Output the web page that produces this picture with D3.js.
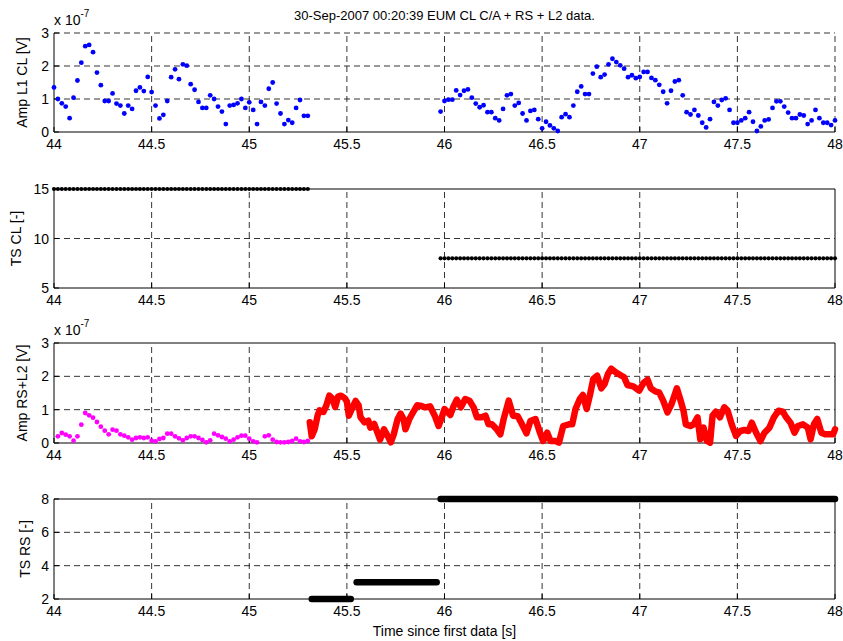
<!DOCTYPE html>
<html>
<head>
<meta charset="utf-8">
<script src="https://cdn.jsdelivr.net/npm/d3@7"></script>
<style>
  body { margin: 0; background: #fff; }
  svg { display: block; font-family: "Liberation Sans", Arial, Helvetica, sans-serif; }
</style>
</head>
<body>
<svg id="chart" width="843" height="641"></svg>
<script>
// time axis shared by all four panels [s]
const xTicks = [44, 44.5, 45, 45.5, 46, 46.5, 47, 47.5, 48]

// CL C/A amplitude on L1, [time s, amplitude x 1e-7 V]
const ampL1Cl = [
  [44.00, 1.35], [44.02, 1.00], [44.04, 0.87], [44.06, 0.77], [44.08, 0.42], [44.10, 1.04],
  [44.12, 1.56], [44.14, 2.10], [44.16, 2.60], [44.18, 2.64], [44.20, 2.42], [44.22, 1.80],
  [44.24, 1.42], [44.26, 0.94], [44.28, 0.94], [44.30, 1.17], [44.32, 0.86], [44.34, 0.80],
  [44.36, 0.56], [44.38, 0.80], [44.40, 0.70], [44.42, 1.25], [44.44, 1.35], [44.46, 1.24],
  [44.48, 1.67], [44.50, 1.21], [44.52, 0.80], [44.54, 0.41], [44.56, 0.52], [44.58, 0.94],
  [44.60, 1.66], [44.62, 1.90], [44.64, 1.60], [44.66, 2.05], [44.68, 2.01], [44.70, 1.45],
  [44.72, 1.28], [44.74, 0.91], [44.76, 0.73], [44.78, 0.73], [44.80, 1.11], [44.82, 1.00],
  [44.84, 0.77], [44.86, 0.62], [44.88, 0.24], [44.90, 0.80], [44.92, 0.82], [44.94, 0.87],
  [44.96, 1.00], [44.98, 0.73], [45.00, 0.90], [45.02, 0.67], [45.04, 0.24], [45.06, 0.91],
  [45.08, 0.80], [45.10, 1.31], [45.12, 1.50], [45.14, 0.86], [45.16, 0.56], [45.18, 0.24],
  [45.20, 0.36], [45.22, 0.28], [45.24, 0.73], [45.26, 0.97], [45.28, 0.49], [45.30, 0.49],
  [45.98, 0.62], [46.00, 0.94], [46.02, 0.98], [46.04, 0.98], [46.06, 1.26], [46.08, 1.12],
  [46.10, 1.25], [46.12, 1.29], [46.14, 1.04], [46.16, 0.86], [46.18, 0.75], [46.20, 0.81],
  [46.22, 0.60], [46.24, 0.60], [46.26, 0.42], [46.28, 0.35], [46.30, 0.70], [46.32, 1.11],
  [46.34, 1.15], [46.36, 0.80], [46.38, 0.88], [46.40, 0.56], [46.42, 0.35], [46.44, 0.64],
  [46.46, 0.67], [46.48, 0.39], [46.50, 0.11], [46.52, 0.31], [46.54, 0.20], [46.56, 0.11],
  [46.58, 0.03], [46.60, 0.45], [46.62, 0.54], [46.64, 0.45], [46.66, 0.80], [46.68, 1.22],
  [46.70, 1.38], [46.72, 1.15], [46.74, 1.15], [46.76, 1.77], [46.78, 1.98], [46.80, 1.66],
  [46.82, 1.74], [46.84, 2.05], [46.86, 2.22], [46.88, 2.12], [46.90, 2.02], [46.92, 1.92],
  [46.94, 1.66], [46.96, 1.72], [46.98, 1.63], [47.00, 1.67], [47.02, 1.82], [47.04, 1.82],
  [47.06, 1.64], [47.08, 1.57], [47.10, 1.43], [47.12, 1.22], [47.14, 0.87], [47.16, 1.25],
  [47.18, 1.53], [47.20, 1.57], [47.22, 1.11], [47.24, 0.60], [47.26, 0.53], [47.28, 0.67],
  [47.30, 0.50], [47.32, 0.28], [47.34, 0.14], [47.36, 0.39], [47.38, 0.91], [47.40, 0.80],
  [47.42, 0.97], [47.44, 1.02], [47.46, 0.67], [47.48, 0.28], [47.50, 0.28], [47.52, 0.35],
  [47.54, 0.42], [47.56, 0.60], [47.58, 0.31], [47.60, 0.03], [47.62, 0.17], [47.64, 0.35],
  [47.66, 0.38], [47.68, 0.73], [47.70, 0.93], [47.72, 0.93], [47.74, 0.77], [47.76, 0.59],
  [47.78, 0.42], [47.80, 0.42], [47.82, 0.53], [47.84, 0.50], [47.86, 0.24], [47.88, 0.35],
  [47.90, 0.67], [47.92, 0.42], [47.94, 0.28], [47.96, 0.28], [47.98, 0.21], [48.00, 0.35]
]

// CL tracking state, constant over each block of CL samples
const tsClBlocks = [
  { from: 44.00, to: 45.30, ts: 15 },
  { from: 45.98, to: 48.00, ts: 8 }
]

// L2 amplitude (magenta), [time s, amplitude x 1e-7 V]
const ampL2 = [
  [44.02, 0.20], [44.04, 0.30], [44.06, 0.25], [44.08, 0.20], [44.10, 0.07], [44.12, 0.20],
  [44.14, 0.55], [44.16, 0.90], [44.18, 0.83], [44.20, 0.76], [44.22, 0.63], [44.24, 0.49],
  [44.26, 0.37], [44.28, 0.26], [44.30, 0.40], [44.32, 0.37], [44.34, 0.26], [44.36, 0.22],
  [44.38, 0.17], [44.40, 0.10], [44.42, 0.15], [44.44, 0.17], [44.46, 0.15], [44.48, 0.17],
  [44.50, 0.07], [44.52, 0.05], [44.54, 0.12], [44.56, 0.15], [44.58, 0.28], [44.60, 0.28],
  [44.62, 0.20], [44.64, 0.14], [44.66, 0.08], [44.68, 0.15], [44.70, 0.20], [44.72, 0.20],
  [44.74, 0.15], [44.76, 0.09], [44.78, 0.02], [44.80, 0.08], [44.82, 0.28], [44.84, 0.23],
  [44.86, 0.18], [44.88, 0.13], [44.90, 0.05], [44.92, 0.10], [44.94, 0.17], [44.96, 0.22],
  [44.98, 0.22], [45.00, 0.13], [45.02, 0.05], [45.04, 0.02], [45.08, 0.20], [45.10, 0.23],
  [45.12, 0.10], [45.14, 0.03], [45.16, 0.02], [45.18, 0.02], [45.20, 0.03], [45.22, 0.06],
  [45.24, 0.13], [45.26, 0.05], [45.28, 0.03], [45.30, 0.06]
]

// RS amplitude (red), [time s, amplitude x 1e-7 V]
const ampRs = [
  [45.31, 0.62], [45.32, 0.20], [45.335, 0.41], [45.35, 0.82], [45.36, 0.98], [45.38, 0.93],
  [45.395, 1.13], [45.41, 1.42], [45.425, 1.34], [45.44, 1.08], [45.455, 1.39], [45.47, 1.42],
  [45.49, 1.34], [45.50, 1.24], [45.51, 0.82], [45.53, 1.08], [45.545, 1.26], [45.56, 1.13],
  [45.57, 0.77], [45.59, 0.62], [45.61, 0.67], [45.62, 0.46], [45.64, 0.57], [45.66, 0.26],
  [45.67, 0.10], [45.69, 0.41], [45.71, 0.20], [45.725, 0.02], [45.74, 0.26], [45.76, 0.72],
  [45.775, 0.88], [45.79, 0.72], [45.80, 0.41], [45.82, 0.72], [45.84, 0.93], [45.86, 1.13],
  [45.875, 1.12], [45.90, 1.07], [45.926, 1.10], [45.95, 0.82], [45.97, 0.51], [45.986, 0.77],
  [46.00, 1.02], [46.03, 0.84], [46.046, 1.10], [46.063, 1.30], [46.084, 1.07], [46.106, 1.32],
  [46.128, 1.27], [46.149, 1.07], [46.166, 0.77], [46.19, 0.77], [46.21, 0.82], [46.226, 0.56],
  [46.243, 0.56], [46.265, 0.43], [46.286, 0.26], [46.303, 0.72], [46.329, 1.27], [46.351, 0.82],
  [46.375, 0.80], [46.397, 0.56], [46.42, 0.29], [46.44, 0.66], [46.466, 0.72], [46.486, 0.36],
  [46.505, 0.06], [46.526, 0.31], [46.543, 0.06], [46.568, 0.06], [46.586, 0.01], [46.608, 0.51],
  [46.637, 0.56], [46.654, 0.56], [46.671, 1.02], [46.693, 1.32], [46.709, 1.44], [46.728, 1.02],
  [46.745, 1.44], [46.762, 1.92], [46.782, 2.02], [46.803, 1.64], [46.82, 1.77], [46.837, 2.07],
  [46.854, 2.23], [46.877, 2.12], [46.90, 2.04], [46.92, 1.97], [46.937, 1.74], [46.967, 1.70],
  [46.997, 1.57], [47.019, 1.80], [47.04, 1.90], [47.057, 1.64], [47.082, 1.54], [47.099, 1.52],
  [47.12, 1.27], [47.142, 0.92], [47.163, 1.17], [47.19, 1.64], [47.207, 1.32], [47.224, 0.97],
  [47.236, 0.56], [47.259, 0.51], [47.276, 0.56], [47.296, 0.77], [47.31, 0.11], [47.327, 0.46],
  [47.344, 0.06], [47.36, 0.01], [47.373, 0.82], [47.39, 0.94], [47.411, 0.77], [47.433, 1.07],
  [47.45, 0.97], [47.471, 0.56], [47.493, 0.21], [47.515, 0.36], [47.536, 0.39], [47.557, 0.36],
  [47.574, 0.61], [47.596, 0.31], [47.618, 0.06], [47.639, 0.31], [47.664, 0.46], [47.687, 0.77],
  [47.711, 0.97], [47.733, 0.94], [47.75, 0.77], [47.772, 0.61], [47.793, 0.31], [47.81, 0.51],
  [47.836, 0.56], [47.861, 0.46], [47.875, 0.11], [47.892, 0.56], [47.909, 0.72], [47.93, 0.31],
  [47.95, 0.26], [47.973, 0.26], [47.99, 0.26], [48.00, 0.41]
]

// RS tracking state blocks
const tsRsBlocks = [
  { from: 45.32, to: 45.52, ts: 2 },
  { from: 45.55, to: 45.96, ts: 3 },
  { from: 45.98, to: 48.00, ts: 8 }
]

const title = '30-Sep-2007 00:20:39 EUM CL C/A + RS + L2 data.'
const xLabel = 'Time since first data [s]'

const plotLeft = 54
const plotRight = 835
const fontSize = 14

const panels = [
  { top: 33, bottom: 132, yDomain: [0, 3], yTicks: [0, 1, 2, 3], yLabel: 'Amp L1 CL [V]', labelX: 27, exponent: true, closed: false },
  { top: 189, bottom: 288, yDomain: [5, 15], yTicks: [5, 10, 15], yLabel: 'TS CL [-]', labelX: 21, exponent: false, closed: true },
  { top: 343, bottom: 443, yDomain: [0, 3], yTicks: [0, 1, 2, 3], yLabel: 'Amp RS+L2 [V]', labelX: 27, exponent: true, closed: true },
  { top: 499, bottom: 599, yDomain: [2, 8], yTicks: [2, 4, 6, 8], yLabel: 'TS RS [-]', labelX: 30, exponent: false, closed: true }
]

const svg = d3.select('#chart')
const x = d3.scaleLinear().domain([44, 48]).range([plotLeft, plotRight])

const drawPanel = (p) => {
  const y = d3.scaleLinear().domain(p.yDomain).range([p.bottom, p.top])
  const g = svg.append('g')

  // dashed grid
  const grid = g.append('g')
    .attr('stroke', '#000')
    .attr('stroke-width', 0.8)
    .attr('stroke-dasharray', '6,4')
  grid.selectAll('line.v')
    .data(xTicks.slice(1, p.closed ? -1 : undefined))
    .join('line')
    .attr('class', 'v')
    .attr('x1', (d) => x(d)).attr('x2', (d) => x(d))
    .attr('y1', p.bottom).attr('y2', p.top)
  grid.selectAll('line.h')
    .data(p.yTicks.slice(1, p.closed ? -1 : undefined))
    .join('line')
    .attr('class', 'h')
    .attr('x1', plotLeft).attr('x2', plotRight)
    .attr('y1', (d) => y(d)).attr('y2', (d) => y(d))

  // box
  const box = g.append('g').attr('stroke', '#000').attr('stroke-width', 1).attr('fill', 'none')
  box.append('line').attr('x1', plotLeft).attr('x2', plotRight).attr('y1', p.bottom).attr('y2', p.bottom)
  box.append('line').attr('x1', plotLeft).attr('x2', plotLeft).attr('y1', p.top).attr('y2', p.bottom)
  if (p.closed) {
    box.append('line').attr('x1', plotLeft).attr('x2', plotRight).attr('y1', p.top).attr('y2', p.top)
    box.append('line').attr('x1', plotRight).attr('x2', plotRight).attr('y1', p.top).attr('y2', p.bottom)
  }
  // inward ticks
  box.selectAll('line.tx')
    .data(xTicks)
    .join('line')
    .attr('x1', (d) => x(d)).attr('x2', (d) => x(d))
    .attr('y1', p.bottom).attr('y2', p.bottom - 5)
  box.selectAll('line.ty')
    .data(p.yTicks)
    .join('line')
    .attr('x1', plotLeft).attr('x2', plotLeft + 5)
    .attr('y1', (d) => y(d)).attr('y2', (d) => y(d))

  // tick labels
  g.append('g')
    .attr('font-size', fontSize)
    .attr('text-anchor', 'middle')
    .selectAll('text')
    .data(xTicks)
    .join('text')
    .attr('x', (d) => x(d))
    .attr('y', p.bottom + 17)
    .text((d) => d3.format('~g')(d))
  g.append('g')
    .attr('font-size', fontSize)
    .attr('text-anchor', 'end')
    .selectAll('text')
    .data(p.yTicks)
    .join('text')
    .attr('x', plotLeft - 5)
    .attr('y', (d) => y(d))
    .attr('dy', '0.36em')
    .text((d) => d)

  g.append('text')
    .attr('font-size', fontSize)
    .attr('text-anchor', 'middle')
    .attr('transform', `translate(${p.labelX},${(p.top + p.bottom) / 2}) rotate(-90)`)
    .text(p.yLabel)

  if (p.exponent) {
    const e = g.append('text').attr('font-size', fontSize).attr('x', plotLeft).attr('y', p.top - 8)
    e.append('tspan').text('x 10')
    e.append('tspan').attr('font-size', 10).attr('dy', -8).text('-7')
  }
  return y
}

const [yAmpCl, yTsCl, yAmpRs, yTsRs] = panels.map(drawPanel)

// panel 1: L1 CL amplitude dots
svg.append('g')
  .attr('fill', '#0000ff')
  .selectAll('circle')
  .data(ampL1Cl)
  .join('circle')
  .attr('cx', (d) => x(d[0]))
  .attr('cy', (d) => yAmpCl(d[1]))
  .attr('r', 2.4)

// panel 2: CL tracking state, one dot per CL sample
svg.append('g')
  .attr('fill', '#000')
  .selectAll('circle')
  .data(tsClBlocks.flatMap((b) => ampL1Cl.filter((d) => d[0] >= b.from && d[0] <= b.to).map((d) => [d[0], b.ts])))
  .join('circle')
  .attr('cx', (d) => x(d[0]))
  .attr('cy', (d) => yTsCl(d[1]))
  .attr('r', 2.1)

// panel 3: L2 dots and RS trace
svg.append('g')
  .attr('fill', '#ff00ff')
  .selectAll('circle')
  .data(ampL2)
  .join('circle')
  .attr('cx', (d) => x(d[0]))
  .attr('cy', (d) => yAmpRs(d[1]))
  .attr('r', 2.4)

svg.append('path')
  .datum(ampRs)
  .attr('fill', 'none')
  .attr('stroke', '#ff0000')
  .attr('stroke-width', 6.5)
  .attr('stroke-linejoin', 'round')
  .attr('stroke-linecap', 'round')
  .attr('d', d3.line().x((d) => x(d[0])).y((d) => yAmpRs(d[1])))

// panel 4: RS tracking state
svg.append('g')
  .attr('stroke', '#000')
  .attr('stroke-width', 6.5)
  .attr('stroke-linecap', 'round')
  .selectAll('line')
  .data(tsRsBlocks)
  .join('line')
  .attr('x1', (d) => x(d.from)).attr('x2', (d) => x(d.to))
  .attr('y1', (d) => yTsRs(d.ts)).attr('y2', (d) => yTsRs(d.ts))

svg.append('text')
  .attr('font-size', 13)
  .attr('text-anchor', 'middle')
  .attr('x', (plotLeft + plotRight) / 2)
  .attr('y', 20)
  .text(title)

svg.append('text')
  .attr('font-size', fontSize)
  .attr('text-anchor', 'middle')
  .attr('x', (plotLeft + plotRight) / 2)
  .attr('y', 636)
  .text(xLabel)
</script>
</body>
</html>
